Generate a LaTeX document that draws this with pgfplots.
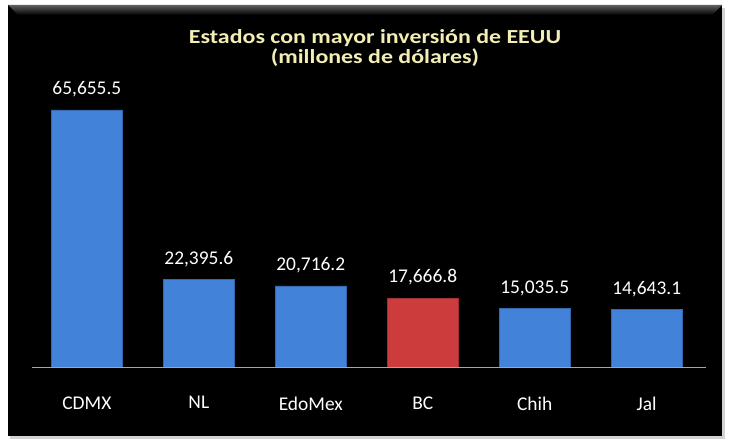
\documentclass[border=0pt]{standalone}
\usepackage{pgfplots}
\pgfplotsset{compat=1.18}
\usepackage{fontspec}
\setmainfont{Carlito}
\definecolor{barblue}{HTML}{4282D8}
\definecolor{barred}{HTML}{CC3C3C}
\definecolor{titleyellow}{HTML}{F3EEB4}
\begin{document}
\begin{tikzpicture}[x=1bp,y=1bp]
\path[use as bounding box] (0,0) rectangle (733,448);
\fill[white] (0,0) rectangle (733,448);
\fill[gray!35] (10,9) rectangle (725,440);
\fill[black] (8,12) rectangle (722,443);
\shade[top color=gray!75!black, bottom color=black] (8,443) -- (722,443) -- (712,433) -- (18,433) -- cycle;
\node[font=\bfseries\fontsize{20}{21}\selectfont, text=titleyellow, align=center] at (375,400) {\scalebox{1.2}[1]{Estados con mayor inversión de EEUU}\\\scalebox{1.2}[1]{(millones de dólares)}};
\begin{axis}[
  at={(32bp,81bp)}, anchor=south west,
  scale only axis, width=674bp, height=282bp,
  xmin=-0.49, xmax=5.53, ymin=0, ymax=72000,
  hide y axis,
  axis x line*=bottom,
  x axis line style={draw=gray!70, line width=0.8pt},
  xtick={0,1,2,3,4,5},
  xticklabels={CDMX,NL,EdoMex,BC,Chih,Jal},
  major tick length=0pt,
  xticklabel style={font=\fontsize{19.5}{22}\selectfont, text=white, yshift=-26bp},
  nodes near coords,
  every node near coord/.append style={font=\fontsize{19.5}{22}\selectfont, text=white, yshift=9bp},
  /pgf/number format/.cd, fixed, fixed zerofill, precision=1, 1000 sep={,}, assume math mode=true,
]
\addplot[ybar, bar shift=0pt, bar width=71bp, fill=barblue, draw=barblue!80!black]
  coordinates {(0,65655.5) (1,22395.6) (2,20716.2) (4,15035.5) (5,14643.1)};
\addplot[ybar, bar shift=0pt, bar width=71bp, fill=barred, draw=barred!80!black]
  coordinates {(3,17666.8)};
\end{axis}
\end{tikzpicture}
\end{document}
